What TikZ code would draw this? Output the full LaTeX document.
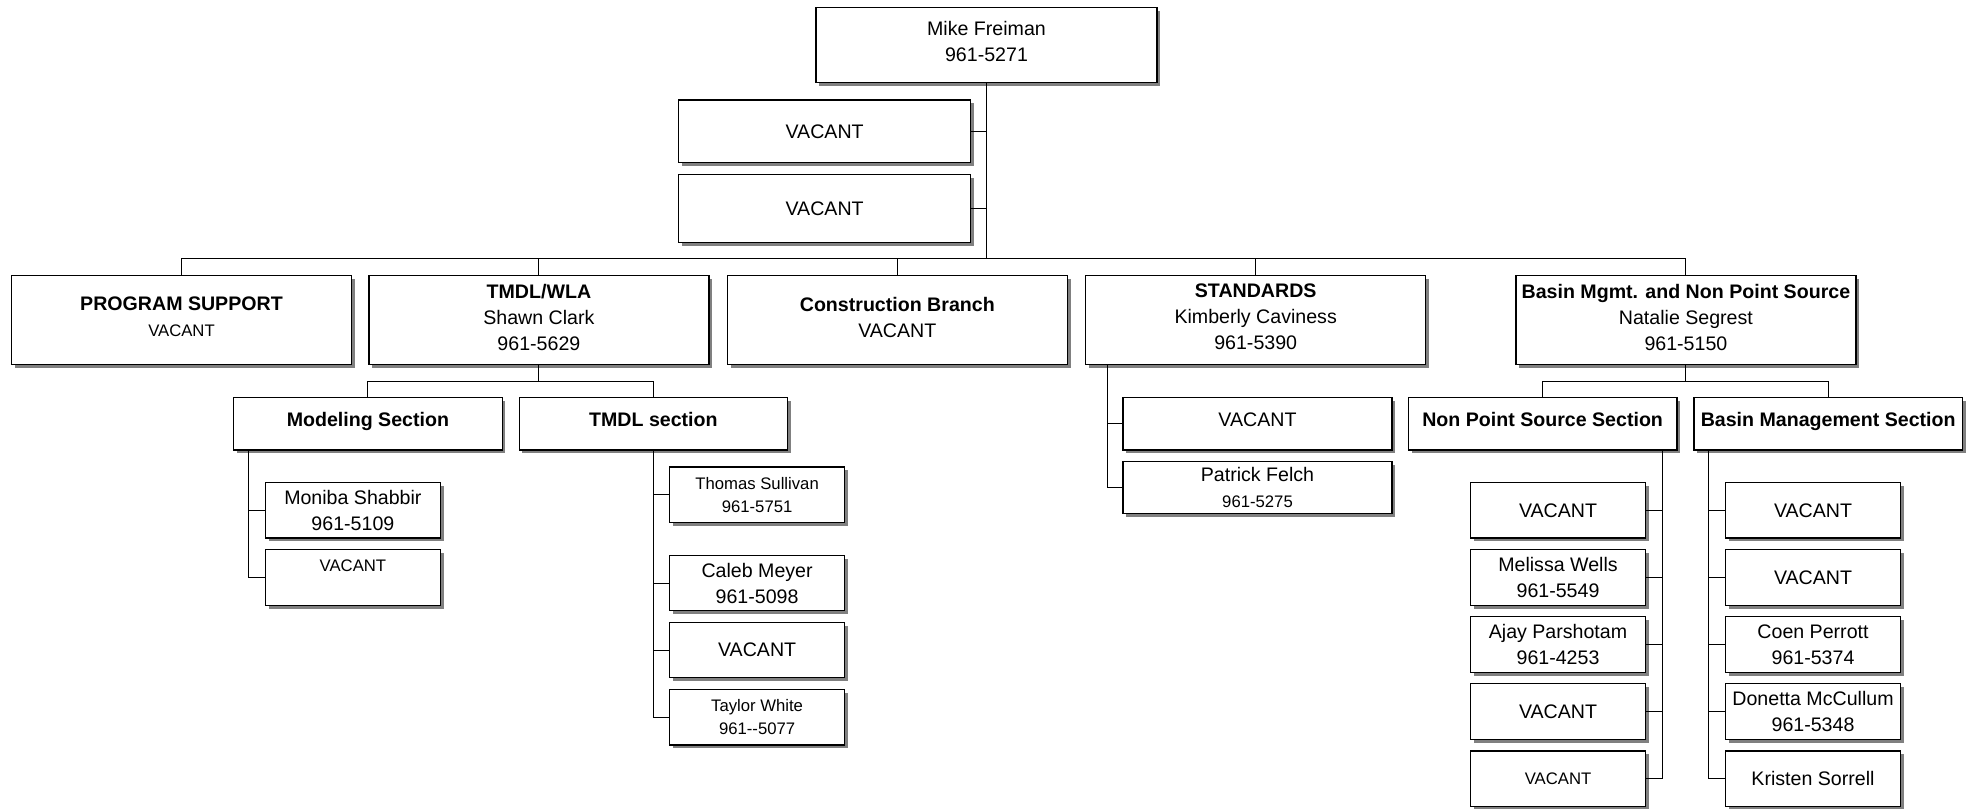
\documentclass[tikz,border=0pt]{standalone}
\usepackage{fontspec}
\setmainfont{Liberation Sans}
\usetikzlibrary{shadows,calc}
\newcommand\fbig{\fontsize{9.8}{13}\selectfont}
\newcommand\fsml{\fontsize{8.35}{11.5}\selectfont}
\begin{document}
\begin{tikzpicture}[x=0.5pt,y=-0.5pt,
  box/.style={draw, line width=0.65pt, fill=white, rectangle, inner sep=0pt, align=center, font=\fbig,
    drop shadow={shadow xshift=1.65pt, shadow yshift=-1.65pt, fill=black!50, opacity=1}},
  lvtwo/.style={box, minimum width=170pt, minimum height=44.7pt, text depth=3pt},
  sect/.style={box, minimum width=134.25pt, minimum height=26.35pt, font=\fbig\bfseries, text height=7.5pt, text depth=4.5pt},
  stdleaf/.style={box, minimum width=134.5pt, minimum height=26.1pt},
  leaf/.style={box, minimum width=87.5pt, minimum height=27.75pt},
  link/.style={draw, line width=0.5pt}]
\useasboundingbox (0,0) rectangle (1979,808);
% top
\node[box, minimum width=170.5pt, minimum height=37.7pt, text depth=4pt] (top) at (986.5,45) {Mike Freiman\\961-5271};
\node[box, minimum width=146pt, minimum height=31.35pt] (a1) at (824.6,131.3) {VACANT};
\node[box, minimum width=146pt, minimum height=34pt] (a2) at (824.6,208.7) {VACANT};
% level 2
\node[lvtwo] (ps) at (181.5,320) {\textbf{PROGRAM SUPPORT}\\{\fsml VACANT}};
\node[lvtwo] (tw) at (538.9,320) {\textbf{TMDL/WLA}\\Shawn Clark\\961-5629};
\node[lvtwo] (cb) at (897.3,320) {\textbf{Construction Branch}\\VACANT};
\node[lvtwo] (st) at (1255.7,320) {\textbf{STANDARDS}\\Kimberly Caviness\\961-5390};
\node[lvtwo] (bm) at (1685.9,320) {\textbf{Basin Mgmt. and Non Point Source}\\Natalie Segrest\\961-5150};
% sections
\node[sect] (mod) at (367.9,423.7) {Modeling Section};
\node[sect] (tms) at (653.4,423.7) {TMDL section};
\node[sect] (nps) at (1542.6,423.7) {Non Point Source Section};
\node[sect] (bms) at (1828.2,423.7) {Basin Management Section};
% standards children
\node[stdleaf, text height=7.5pt, text depth=4.5pt] (sv) at (1257.5,423.8) {VACANT};
\node[stdleaf] (pf) at (1257.5,487.3) {Patrick Felch\\{\fsml 961-5275}};
% modeling children
\node[leaf] (ms) at (352.9,510.3) {Moniba Shabbir\\961-5109};
\node[leaf, font=\fsml] (mv) at (352.9,577.5) {VACANT\\\phantom{9}};
% tmdl section children
\node[leaf, font=\fsml] (t1) at (757.1,494.8) {Thomas Sullivan\\961-5751};
\node[leaf] (t2) at (757.1,583) {Caleb Meyer\\961-5098};
\node[leaf] (t3) at (757.1,650) {VACANT};
\node[leaf, font=\fsml] (t4) at (757.1,717.2) {Taylor White\\961-{}-5077};
% nps children
\node[leaf] (n1) at (1558,510.3) {VACANT};
\node[leaf] (n2) at (1558,577.5) {Melissa Wells\\961-5549};
\node[leaf] (n3) at (1558,644.5) {Ajay Parshotam\\961-4253};
\node[leaf] (n4) at (1558,711.5) {VACANT};
\node[leaf, font=\fsml] (n5) at (1558,778.7) {VACANT};
% bms children
\node[leaf] (b1) at (1813,510.3) {VACANT};
\node[leaf] (b2) at (1813,577.5) {VACANT};
\node[leaf] (b3) at (1813,644.5) {Coen Perrott\\961-5374};
\node[leaf] (b4) at (1813,711.5) {Donetta McCullum\\961-5348};
\node[leaf] (b5) at (1813,778.7) {Kristen Sorrell};
% connectors
\coordinate (busa) at (0,258.7);
\coordinate (busb) at (0,381);
\draw[link] (top.south) -- (top.south |- busa);
\draw[link] (a1.east) -- (a1.east -| top.south);
\draw[link] (a2.east) -- (a2.east -| top.south);
\draw[link] (ps.north) -- (ps.north |- busa) -- (bm.north |- busa) -- (bm.north);
\draw[link] (tw.north) -- (tw.north |- busa);
\draw[link] (cb.north) -- (cb.north |- busa);
\draw[link] (st.north) -- (st.north |- busa);
\draw[link] (tw.south) -- (tw.south |- busb);
\draw[link] (mod.north) -- (mod.north |- busb) -- (tms.north |- busb) -- (tms.north);
\draw[link] (bm.south) -- (bm.south |- busb);
\draw[link] (nps.north) -- (nps.north |- busb) -- (bms.north |- busb) -- (bms.north);
% modeling
\coordinate (mx) at ($(mod.south west)+(15.6,0)$);
\draw[link] (mx) |- (mv.west);
\draw[link] (mx |- ms.west) -- (ms.west);
% tmdl section
\draw[link] (tms.south) |- (t4.west);
\foreach \n in {t1,t2,t3} \draw[link] (tms.south |- \n.west) -- (\n.west);
% standards
\coordinate (sx) at ($(st.south west)+(22.1,0)$);
\draw[link] (sx) |- (pf.west);
\draw[link] (sx |- sv.west) -- (sv.west);
% nps
\coordinate (nx) at ($(nps.south east)+(-15.1,0)$);
\draw[link] (nx) |- (n5.east);
\foreach \n in {n1,n2,n3,n4} \draw[link] (\n.east) -- (\n.east -| nx);
% bms
\coordinate (bx) at ($(bms.south west)+(15.2,0)$);
\draw[link] (bx) |- (b5.west);
\foreach \n in {b1,b2,b3,b4} \draw[link] (bx |- \n.west) -- (\n.west);
\end{tikzpicture}
\end{document}
